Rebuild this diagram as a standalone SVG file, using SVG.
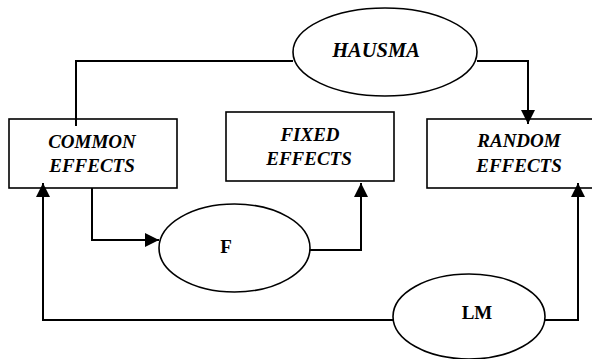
<svg xmlns="http://www.w3.org/2000/svg" width="592" height="359" viewBox="0 0 592 359">
<style>
.box{fill:#fff;stroke:#000;stroke-width:1.6}
.ell{fill:#fff;stroke:#000;stroke-width:1.6}
.t{font-family:"Liberation Serif",serif;font-weight:bold;font-style:italic;font-size:19px;text-anchor:middle;fill:#000}
.tn{font-family:"Liberation Serif",serif;font-weight:bold;font-size:19px;text-anchor:middle;fill:#000}
.c{fill:none;stroke:#000;stroke-width:2}
</style>
<defs>
<marker id="ah" viewBox="0 0 14 14" refX="14" refY="7" markerWidth="14" markerHeight="14" markerUnits="userSpaceOnUse" orient="auto">
<path d="M0,0 L14,7 L0,14 Z" fill="#000"/>
</marker>
</defs>
<g id="common"><rect class="box" x="9" y="119" width="168" height="69"/><text class="t" x="92" y="148">COMMON</text><text class="t" x="92" y="172">EFFECTS</text></g>
<g id="fixed"><rect class="box" x="226" y="112" width="168" height="69"/><text class="t" x="310" y="141">FIXED</text><text class="t" x="309" y="165">EFFECTS</text></g>
<g id="random"><rect class="box" x="427" y="119" width="175" height="69"/><text class="t" x="519" y="147">RANDOM</text><text class="t" x="519" y="172">EFFECTS</text></g>
<g id="hausma"><ellipse class="ell" cx="385" cy="52" rx="92" ry="44"/><text class="t" x="376" y="57" style="font-size:20.5px">HAUSMA</text></g>
<g id="f"><ellipse class="ell" cx="234.5" cy="248" rx="75.5" ry="44"/><text class="tn" x="226" y="253">F</text></g>
<g id="lm"><ellipse class="ell" cx="469" cy="316.5" rx="76" ry="42.5"/><text class="tn" x="477" y="319">LM</text></g>
<g id="connectors">
<polyline class="c" points="293,61 76,61 76,126"/>
<polyline class="c" points="477,61 528,61 528,124" marker-end="url(#ah)"/>
<polyline class="c" points="92,188 92,240 159,240" marker-end="url(#ah)"/>
<polyline class="c" points="310,250 361,250 361,183" marker-end="url(#ah)"/>
<polyline class="c" points="393,320 43,320 43,183" marker-end="url(#ah)"/>
<polyline class="c" points="545,320 578,320 578,183" marker-end="url(#ah)"/>
</g>
</svg>
